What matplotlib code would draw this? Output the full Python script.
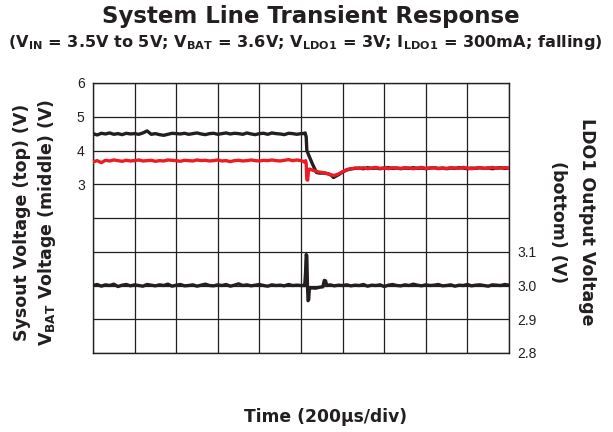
import matplotlib
matplotlib.use("Agg")
import matplotlib.pyplot as plt
import numpy as np

# ---------------- data ----------------
# time in microseconds, 200 us per division, 10 divisions
t_pre = list(range(0, 1001, 20))
t_post = list(range(1260, 2001, 20))

# Sysout voltage (top trace, black), V
sys_pre = [4.50, 4.46, 4.51, 4.49, 4.52, 4.48, 4.50, 4.47, 4.51, 4.49,
           4.50, 4.48, 4.52, 4.58, 4.48, 4.50, 4.47, 4.45, 4.48, 4.51,
           4.50, 4.49, 4.51, 4.48, 4.50, 4.52, 4.49, 4.47, 4.50, 4.51,
           4.48, 4.50, 4.52, 4.49, 4.51, 4.50, 4.48, 4.52, 4.49, 4.47,
           4.50, 4.51, 4.48, 4.52, 4.50, 4.49, 4.47, 4.51, 4.50, 4.48,
           4.50]
sys_tr_t = [1010, 1020, 1025, 1028, 1040, 1055, 1074, 1090, 1110, 1130,
            1145, 1156, 1168, 1185, 1200, 1215, 1230, 1245]
sys_tr_v = [4.50, 4.52, 4.40, 4.00, 3.82, 3.60, 3.35, 3.33, 3.33, 3.31,
            3.27, 3.20, 3.24, 3.30, 3.36, 3.41, 3.44, 3.46]
sys_post = [3.47, 3.48, 3.46, 3.49, 3.47, 3.48, 3.46, 3.48, 3.49, 3.47,
            3.48, 3.46, 3.48, 3.47, 3.49, 3.47, 3.48, 3.46, 3.48, 3.49,
            3.47, 3.48, 3.46, 3.48, 3.47, 3.49, 3.48, 3.46, 3.48, 3.47,
            3.49, 3.47, 3.48, 3.46, 3.48, 3.49, 3.47, 3.48]

# VBAT voltage (middle trace, red), V
bat_pre = [3.66, 3.70, 3.64, 3.71, 3.69, 3.72, 3.70, 3.68, 3.71, 3.69,
           3.70, 3.72, 3.69, 3.70, 3.71, 3.68, 3.70, 3.69, 3.72, 3.71,
           3.70, 3.68, 3.71, 3.70, 3.69, 3.72, 3.70, 3.71, 3.69, 3.70,
           3.72, 3.69, 3.70, 3.67, 3.70, 3.71, 3.69, 3.70, 3.72, 3.70,
           3.69, 3.71, 3.70, 3.72, 3.70, 3.69, 3.71, 3.73, 3.70, 3.72,
           3.70]
bat_tr_t = [1010, 1018, 1022, 1025, 1028, 1032, 1036, 1040, 1050, 1065,
            1080, 1100, 1120, 1140, 1156, 1170, 1185, 1200, 1215, 1230, 1245]
bat_tr_v = [3.68, 3.65, 3.70, 3.62, 3.14, 3.12, 3.40, 3.45, 3.43, 3.40,
            3.37, 3.35, 3.33, 3.29, 3.26, 3.28, 3.32, 3.37, 3.42, 3.45, 3.46]
bat_post = [3.48, 3.47, 3.49, 3.46, 3.48, 3.50, 3.47, 3.48, 3.46, 3.49,
            3.48, 3.47, 3.49, 3.48, 3.46, 3.48, 3.50, 3.47, 3.48, 3.49,
            3.46, 3.48, 3.47, 3.49, 3.48, 3.47, 3.50, 3.48, 3.46, 3.48,
            3.49, 3.47, 3.48, 3.50, 3.47, 3.48, 3.49, 3.48]

# LDO1 output voltage (bottom trace, black, right axis), V
ldo_pre = [3.000, 3.003, 2.998, 3.002, 3.000, 3.004, 2.997, 3.001, 3.003, 2.999,
           3.002, 3.000, 2.998, 3.003, 3.001, 2.999, 3.002, 3.000, 3.004, 2.998,
           3.001, 3.003, 2.999, 3.000, 3.002, 2.998, 3.001, 3.004, 3.000, 2.999,
           3.002, 3.000, 3.003, 2.998, 3.001, 3.005, 3.000, 3.002, 2.999, 3.001,
           3.003, 3.000, 2.998, 3.002, 3.000, 3.001, 2.999, 3.003, 3.000, 3.001,
           3.000]
ldo_tr_t = [1010, 1018, 1022, 1025, 1028, 1031, 1034, 1037, 1040, 1050,
            1070, 1090, 1105, 1112, 1118, 1124, 1140, 1160, 1180, 1200, 1220, 1240]
ldo_tr_v = [3.000, 3.000, 3.040, 3.092, 3.088, 3.000, 2.955, 2.958, 2.990, 2.993,
            2.992, 2.995, 2.996, 3.015, 3.014, 3.000, 3.002, 2.999, 3.001, 3.000,
            3.002, 2.999]
ldo_post = [3.001, 3.000, 3.003, 2.998, 3.001, 3.000, 3.002, 2.997, 3.001, 3.003,
            3.000, 2.999, 3.002, 3.000, 3.004, 3.001, 2.999, 3.002, 3.000, 3.001,
            3.003, 2.999, 3.000, 3.002, 2.998, 3.001, 3.000, 3.003, 2.999, 3.001,
            3.002, 3.000, 2.998, 3.002, 3.001, 3.000, 3.003, 3.001]

left_ticks = [-2, -1, 0, 1, 2, 3, 4, 5, 6]
left_labels = ["", "", "", "", "", "3", "4", "5", "6"]
right_ticks = [2.8, 2.9, 3.0, 3.1]
right_labels = ["2.8", "2.9", "3.0", "3.1"]

# ---------------- figure ----------------
BLACK = "#231f20"
RED = "#ed1c24"
W, H = 613, 432
fig = plt.figure(figsize=(W / 100, H / 100), dpi=100)
fig.patch.set_facecolor("white")

ax = fig.add_axes([93 / W, 1 - 353 / H, (509 - 93) / W, (353 - 83) / H])
ax.set_xlim(0, 2000)
ax.set_ylim(-2, 6)
ax.set_xticks(np.arange(0, 2001, 200))
ax.set_yticks(left_ticks)
ax.set_yticklabels(left_labels, fontfamily="Liberation Sans", fontsize=10, color=BLACK)
ax.grid(True, color=BLACK, lw=0.9)
ax.tick_params(length=0, labelbottom=False, pad=6)
for s in ax.spines.values():
    s.set_color(BLACK)
    s.set_linewidth(1.0)

t_sys = t_pre + sys_tr_t + t_post
v_sys = sys_pre + sys_tr_v + sys_post
t_bat = t_pre + bat_tr_t + t_post
v_bat = bat_pre + bat_tr_v + bat_post
ax.plot(t_sys, v_sys, color=BLACK, lw=2.4, solid_joinstyle="round", zorder=3)
ax.plot(t_bat, v_bat, color=RED, lw=2.4, solid_joinstyle="round", zorder=4)

ax2 = ax.twinx()
ax2.set_ylim(2.8, 3.6)
ax2.set_yticks(right_ticks)
ax2.set_yticklabels(right_labels, fontfamily="Liberation Sans", fontsize=10, color=BLACK)
ax2.tick_params(length=0, pad=6)
for s in ax2.spines.values():
    s.set_visible(False)
t_ldo = t_pre + ldo_tr_t + t_post
v_ldo = ldo_pre + ldo_tr_v + ldo_post
ax2.plot(t_ldo, v_ldo, color=BLACK, lw=2.4, solid_joinstyle="round")

# ---------------- text ----------------
def fx(px):
    return px / W

def fy(py):
    return 1 - py / H

fig.text(fx(311), fy(23), "System Line Transient Response", ha="center", va="baseline",
         fontsize=16.5, fontweight="bold", color=BLACK)
fig.text(fx(305), fy(47),
         r"(V$_\mathbf{IN}$ = 3.5V to 5V; V$_\mathbf{BAT}$ = 3.6V; V$_\mathbf{LDO1}$ = 3V; "
         r"I$_\mathbf{LDO1}$ = 300mA; falling)",
         ha="center", va="baseline", fontsize=11.6, fontweight="bold", color=BLACK)
fig.text(fx(22), fy(222), "Sysout Voltage (top) (V)", rotation=90, ha="center", va="center",
         fontsize=12.5, fontweight="bold", color=BLACK)
fig.text(fx(47), fy(222), r"V$_\mathbf{BAT}$ Voltage (middle) (V)", rotation=90, ha="center",
         va="center", fontsize=12.5, fontweight="bold", color=BLACK)
fig.text(fx(587), fy(222), "LDO1 Output Voltage", rotation=-90, ha="center", va="center",
         fontsize=12.5, fontweight="bold", color=BLACK)
fig.text(fx(558), fy(222), "(bottom) (V)", rotation=-90, ha="center", va="center",
         fontsize=12.5, fontweight="bold", color=BLACK)
fig.text(fx(326), fy(422), "Time (200µs/div)", ha="center", va="baseline",
         fontsize=12.3, fontweight="bold", color=BLACK)

fig.savefig("out.png", dpi=100)
